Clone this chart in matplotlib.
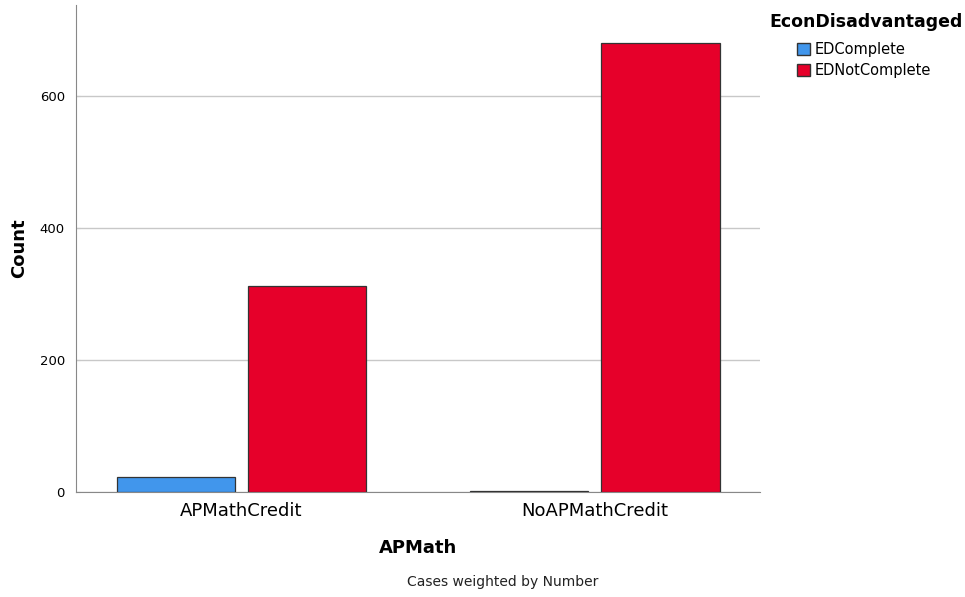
import matplotlib.pyplot as plt
import numpy as np
from matplotlib.patches import Patch

categories = ["APMathCredit", "NoAPMathCredit"]
series_names = ["EDComplete", "EDNotComplete"]
ed_complete = [23, 1]
ed_not_complete = [312, 680]
colors = ["#4196EC", "#E6002A"]

fig = plt.figure(figsize=(9.65, 5.97), dpi=100)
ax = fig.add_axes([76 / 965, 1 - 492 / 597, (760 - 76) / 965, (492 - 5) / 597])

x = np.arange(len(categories))
w = 0.334
gap = 0.037
for i, (vals, c) in enumerate(zip([ed_complete, ed_not_complete], colors)):
    off = (i - 0.5) * (w + gap)
    ax.bar(x + off, vals, width=w, color=c, edgecolor="#333333", linewidth=0.9, zorder=3)

ax.set_xlim(-0.468, 1.467)
ax.set_ylim(0, 738)
ax.set_yticks([0, 200, 400, 600])
ax.yaxis.grid(True, color="#c8c8c8", linewidth=1, zorder=0)
ax.set_xticks(x)
ax.set_xticklabels(categories, fontsize=13)
ax.tick_params(axis="x", length=0, pad=7)
ax.tick_params(axis="y", length=3, direction="in", color="#c8c8c8", labelsize=9.5, pad=8)
for s in ["top", "right"]:
    ax.spines[s].set_visible(False)
for s in ["left", "bottom"]:
    ax.spines[s].set_color("#888888")

ax.set_xlabel("APMath", fontsize=13, fontweight="bold", labelpad=14)
ax.set_ylabel("Count", fontsize=13, fontweight="bold", labelpad=8)

fig.text(503 / 965, 1 - 582 / 597, "Cases weighted by Number", fontsize=10,
         ha="center", va="center", color="#222222")

# legend title and entries placed separately
fig.text(769 / 965, 1 - 22 / 597, "EconDisadvantaged", fontsize=12.5,
         fontweight="bold", ha="left", va="center")
handles = [Patch(facecolor=c, edgecolor="#333333", label=n) for c, n in zip(colors, series_names)]
fig.legend(handles=handles, loc="upper left", bbox_to_anchor=(787 / 965, 1 - 32 / 597),
           frameon=False, fontsize=10.5, handlelength=0.9, handleheight=0.9,
           handletextpad=0.3, labelspacing=0.4, borderpad=0.2)

fig.savefig("out.png", dpi=100)
